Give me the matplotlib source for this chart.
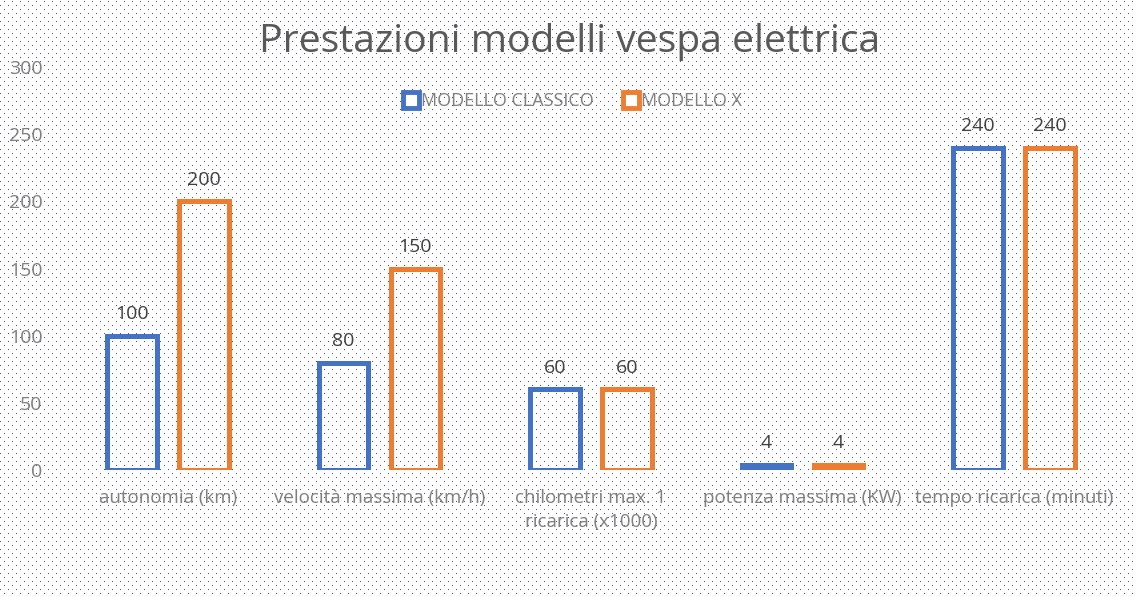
import numpy as np
import matplotlib
matplotlib.use("Agg")
import matplotlib.pyplot as plt
from matplotlib.lines import Line2D

plt.rcParams['font.family'] = ['Open Sans', 'DejaVu Sans']

# data
categorie = ["autonomia (km)", "velocità massima (km/h)", "chilometri max. 1\nricarica (x1000)",
             "potenza massima (KW)", "tempo ricarica (minuti)"]
classico = [100, 80, 60, 4, 240]
modello_x = [200, 150, 60, 4, 240]
serie = ["MODELLO CLASSICO", "MODELLO X"]
yticks = [0, 50, 100, 150, 200, 250, 300]

blu = "#4472C4"
arancio = "#ED7D31"

W, H = 1136, 597
fig = plt.figure(figsize=(W / 100, H / 100), dpi=100)

# dotted background
bg = np.ones((H, W, 3))
dot = np.array([0x44, 0x54, 0x6A]) / 255
for r, y in enumerate(range(1, H, 4)):
    off = 4 if r % 2 == 0 else 0
    bg[y, off::8] = dot
bax = fig.add_axes([0, 0, 1, 1], zorder=-1)
bax.imshow(bg, interpolation='nearest', aspect='auto')
bax.axis('off')

ax = fig.add_axes([62 / W, 1 - 470 / H, (1120 - 62) / W, (470 - 67) / H])
ax.patch.set_alpha(0)

x = np.arange(len(categorie))
w = 0.235
b1 = ax.bar(x - 0.17, classico, w, facecolor='none', edgecolor=blu, linewidth=3.6)
b2 = ax.bar(x + 0.17, modello_x, w, facecolor='none', edgecolor=arancio, linewidth=3.6)

for bars, vals in [(b1, classico), (b2, modello_x)]:
    for b, v in zip(bars, vals):
        ax.annotate(str(v), (b.get_x() + b.get_width() / 2, v), xytext=(0, 9),
                    textcoords='offset points', ha='center', va='bottom',
                    fontsize=14, color='#404040')

ax.set_xlim(-0.5, len(categorie) - 0.5)
ax.set_ylim(0, 300)
ax.set_yticks(yticks)
ax.set_xticks(x)
ax.set_xticklabels(categorie, fontsize=13.5, color='#7F7F7F', linespacing=1.4)
ax.tick_params(axis='x', length=0, pad=14)
ax.tick_params(axis='y', length=0, pad=14, labelsize=14, labelcolor='#7F7F7F')
for s in ax.spines.values():
    s.set_visible(False)

handles = [Line2D([], [], marker='s', linestyle='none', markersize=11,
                  markerfacecolor='white', markeredgecolor=c, markeredgewidth=3.5)
           for c in (blu, arancio)]
fig.legend(handles, serie, loc='center', bbox_to_anchor=(572 / W, 1 - 101 / H), ncol=2,
           frameon=False, fontsize=13, labelcolor='#7F7F7F', handletextpad=0.05,
           columnspacing=1.6, handlelength=1.0)

fig.text(570 / W, 1 - 42 / H, "Prestazioni modelli vespa elettrica", ha='center', va='center',
         fontsize=28.2, color='#595959')

fig.savefig("out.png", dpi=100)
